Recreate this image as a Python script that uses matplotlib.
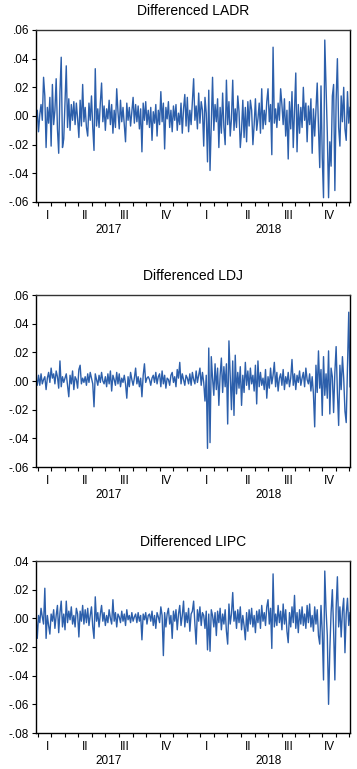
import numpy as np
import matplotlib
matplotlib.use("Agg")
import matplotlib.pyplot as plt
from matplotlib.ticker import FuncFormatter

plt.rcParams["font.family"] = ["Liberation Sans", "DejaVu Sans"]

# daily log differences in units of 0.001 (about 2 trading days per value)
ladr_milli = [
    -2, 4, -11, 1, 8, -3, 27, 14, -22, 6,
    -5, 13, -21, 22, -6, 4, 26, -9, -26, 17,
    41, -22, -16, 10, 35, -8, 12, -10, 8, -3,
    10, -6, 9, -2, -15, 11, -7, 22, -4, 6,
    -8, -14, 9, -3, 14, -8, -24, 33, -7, 5,
    -8, 9, 23, -4, 7, -10, 5, -2, 11, -6,
    8, -12, 4, -8, 19, 3, -9, 11, -4, 6,
    -6, -18, 9, -3, 6, -7, 3, 13, -5, 8,
    -4, 7, -9, 5, -25, 9, -3, 10, -6, 4,
    -8, 6, -17, 3, -5, 8, -14, 4, -6, 17,
    -4, 9, -23, 6, -2, 10, -8, 4, -11, 7,
    -3, 8, -10, 2, -6, 9, -12, 5, 15, -7,
    13, -11, 4, -6, 10, 26, -3, 7, -9, 16,
    -5, 10, 4, -21, 13, 2, -32, 18, -38, -6,
    27, -10, 8, -4, 12, -22, 6, -12, 16, -8,
    -20, 25, -6, 10, -14, -2, 25, -10, 5, -8,
    14, 3, -22, -10, 11, -15, 6, -18, 10, -7,
    11, 4, -20, -6, 12, -10, -2, 9, -12, 19,
    -9, 4, -6, 10, 19, -4, 8, -27, 48, -5,
    5, -8, 9, -3, 19, 8, -6, 12, -14, 4,
    -30, 10, -9, 17, -22, 5, 30, -25, 8, -12,
    6, -8, 20, -3, 9, -18, 7, -6, 12, -26,
    5, -14, 4, 23, -8, -36, 21, -29, -57, 53,
    21, -12, -57, -18, -35, 14, 22, -52, 11, 40,
    -8, -21, 14, -4, 20, -9, -17, 17, -5, 6,
]
ldj_milli = [
    2, -3, 4, -3, 5, -2, 1, 3, -6, 2,
    6, -1, 9, 2, 5, -2, 7, 3, -5, 14,
    -4, 3, -1, 2, 5, -3, -11, 4, -2, 7,
    -6, 3, 1, -5, 8, 11, -2, 2, -1, 3,
    -3, 5, -1, 6, 2, -2, -18, 5, 1, -3,
    4, -1, 6, 0, -2, 3, -4, 5, -2, 7,
    -7, 4, 1, -3, 6, -2, 5, -4, 2, -1,
    4, -2, -12, 3, -4, 6, 1, -3, 2, 9,
    -2, 3, -4, 2, -11, 4, 12, -1, 2, 3,
    1, -3, 2, 4, -1, 6, -2, 3, 5, -4,
    7, -2, 4, -5, 2, 1, -3, 4, 6, -1,
    3, -4, 8, 2, 13, -2, 5, 1, -3, 4,
    2, -2, 5, -3, 6, 1, -2, 7, -1, 4,
    9, -3, 6, -1, -14, 4, -47, 23, -43, 17,
    2, -10, 12, -6, 9, -17, 4, 16, -8, 10,
    -4, 12, -30, 28, 5, -20, 14, -24, 18, -9,
    6, -5, 10, -17, 4, -8, 13, -3, 7, -6,
    9, -2, 4, -7, 11, -16, 14, -4, 6, -3,
    2, -6, 8, -12, 3, -5, 9, -2, 4, 13,
    -4, 6, -7, 2, 5, -3, 8, -6, 3, -2,
    6, -4, 2, 15, -3, 5, -6, 4, -1, 7,
    -3, 2, 6, -4, 9, 1, -2, 5, -7, 3,
    -9, -32, 11, -8, 21, -5, 8, -24, 17, -10,
    5, -12, 21, -23, 9, 3, -22, 6, 24, -8,
    -31, 11, -6, 17, 2, -21, -29, 8, 48, -4,
]
lipc_milli = [
    3, -14, 2, -3, 7, 1, -4, 21, -14, 2,
    -5, -11, 3, -2, 6, -7, 2, 9, -10, 4,
    12, -6, 3, -8, 12, -3, 5, -1, 8, -4,
    2, -6, 7, 3, -13, 5, -2, 9, -4, 6,
    -3, 7, -5, 2, 8, -6, -14, 15, -2, 4,
    -6, 3, 9, -2, 4, -5, 2, -3, 6, 0,
    -4, 13, -2, 4, -6, 3, 1, -3, 5, -2,
    3, -5, 6, -1, 2, -3, 4, -2, 1, 3,
    -3, 4, -2, 2, -15, 3, -1, 4, -4, 2,
    3, -2, 5, -5, 2, -7, 4, 1, -3, 8,
    2, -26, 4, -6, 3, 7, -4, 2, -14, 5,
    -2, 6, -8, 3, 9, -5, 2, 12, -6, 4,
    -3, 7, -9, 3, 5, 12, -4, -18, 6, -2,
    8, -5, 4, 2, -7, 5, -22, 3, -23, 6,
    2, -6, 4, -12, 5, -3, 7, -8, 3, -4,
    6, -9, -18, 10, -4, 3, 18, -2, 5, -7,
    6, -3, 8, -8, 2, -5, -15, 4, -9, 6,
    -4, 7, -6, 2, -10, 5, -3, 6, -7, 9,
    -2, 4, -5, 8, 13, -4, 7, -21, 31, -6,
    3, -5, 9, -3, 5, -8, 10, -4, 6, -9,
    -17, 4, -6, 8, -3, 16, -7, 4, -10, 6,
    -4, 8, -5, 3, -7, 9, -3, 10, -6, 2,
    -9, 8, -4, 6, -12, -18, 9, -10, -43, 33,
    6, -12, -60, -22, 4, 20, -8, -43, 7, 29,
    -6, 8, -13, 5, 14, -24, 3, 14, -5, 4,
]

titles = ["Differenced LADR", "Differenced LDJ", "Differenced LIPC"]
series = [ladr_milli, ldj_milli, lipc_milli]
y_limits = [(-0.06, 0.06), (-0.06, 0.06), (-0.08, 0.04)]
quarter_labels = ["I", "II", "III", "IV"] * 2
year_labels = ["2017", "2018"]

LINE = "#2c5fab"
W, H = 357, 769
AX_LEFT, AX_RIGHT = 36, 350
panel_tops = [30, 295, 561]
PANEL_H = 172

# x positions in pixels along the axis (month ticks, quarter / year label centres)
tick_px = [37.7 + 13.55 * k for k in range(24)]
quarter_px = [47.7, 85, 125, 166.7, 206.7, 247.7, 288.3, 329.3]
year_px = [108.3, 268.3]


def ylab(v, _pos):
    s = f"{v:.2f}"
    return s.replace("0.", ".", 1)


fig = plt.figure(figsize=(W / 100, H / 100), dpi=100)

for title, vals, ylim, top in zip(titles, series, y_limits, panel_tops):
    y = np.array(vals) / 1000.0
    n = len(y)
    x = np.arange(n)
    to_x = lambda p: (p - AX_LEFT) / (AX_RIGHT - AX_LEFT) * (n - 1)

    ax = fig.add_axes([AX_LEFT / W, 1 - (top + PANEL_H) / H,
                       (AX_RIGHT - AX_LEFT) / W, PANEL_H / H])
    ax.plot(x, y, color=LINE, lw=1.0)
    ax.set_xlim(0, n - 1)
    ax.set_ylim(*ylim)
    ax.set_yticks(np.arange(ylim[0], ylim[1] + 1e-9, 0.02))
    ax.yaxis.set_major_formatter(FuncFormatter(ylab))
    ax.set_xticks([to_x(p) for p in tick_px])
    ax.set_xticklabels([])
    ax.tick_params(axis="both", direction="out", length=3, width=0.8,
                   labelsize=8.5, pad=2, colors="black")
    for sp in ax.spines.values():
        sp.set_linewidth(1.0)
    ax.spines["top"].set_color("#333333")
    ax.set_title(title, fontsize=10, pad=11)

    for lab, p in zip(quarter_labels, quarter_px):
        ax.annotate(lab, xy=(to_x(p), 0), xycoords=("data", "axes fraction"),
                    xytext=(0, -10), textcoords="offset points",
                    ha="center", va="center", fontsize=8.5)
    for lab, p in zip(year_labels, year_px):
        ax.annotate(lab, xy=(to_x(p), 0), xycoords=("data", "axes fraction"),
                    xytext=(0, -20.5), textcoords="offset points",
                    ha="center", va="center", fontsize=8.5)

fig.savefig("out.png", dpi=100)
